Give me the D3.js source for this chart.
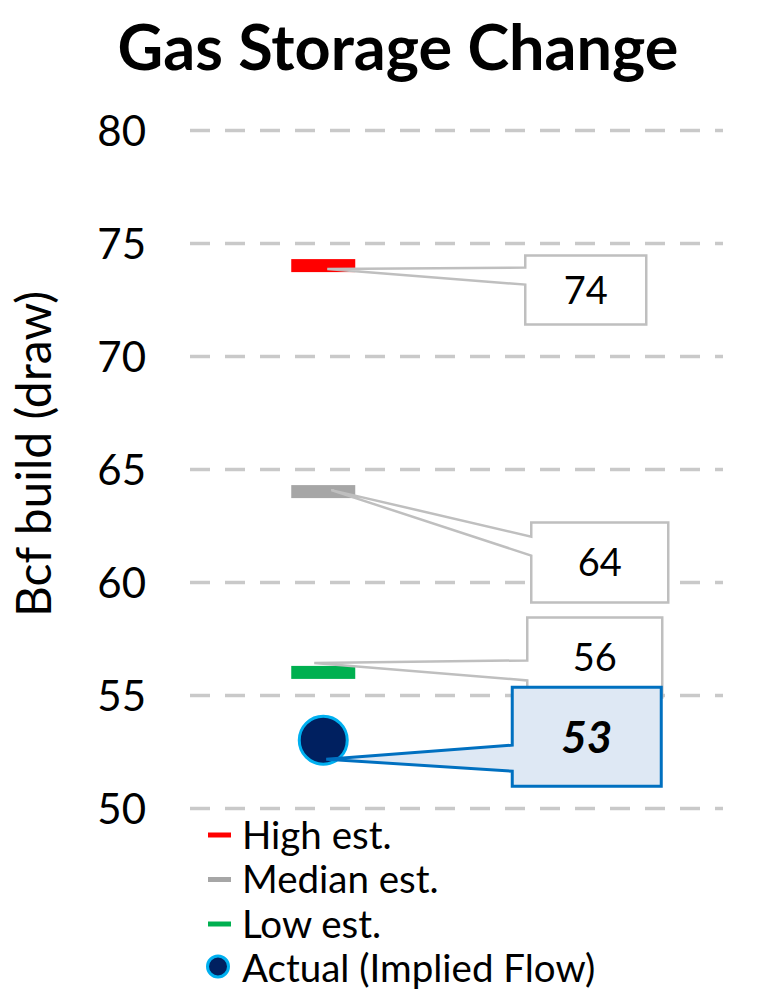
<!DOCTYPE html>
<html>
<head>
<meta charset="utf-8">
<script src="https://cdn.jsdelivr.net/npm/d3@7"></script>
<style>
  body { margin: 0; background: #fff; }
  text { font-family: Lato, "Open Sans", sans-serif; }
</style>
</head>
<body>
<svg id="chart" width="776" height="991"></svg>
<script>
// Data
var seriesNames = ["High est.", "Median est.", "Low est.", "Actual (Implied Flow)"];
var seriesValues = [74, 64, 56, 53];
var yTicks = [50, 55, 60, 65, 70, 75, 80];

// Styles
var colors = ["#ff0000", "#a6a6a6", "#00b050", "#002060"];

// Layout
var margin = {left: 190, right: 53, top: 130, bottom: 183};
var width = 776 - margin.left - margin.right;
var height = 991 - margin.top - margin.bottom;

var svg = d3.select("svg#chart");
var g = svg.append("g").attr("transform", "translate(" + margin.left + "," + margin.top + ")");

var x = d3.scaleLinear().domain([0, 4]).range([0, width]);
var y = d3.scaleLinear().domain([50, 80]).range([height, 0]);
var cx = x(1.0);

// title
svg.append("text").attr("x", 398).attr("y", 70).attr("text-anchor", "middle")
    .style("font-size", "63px").style("font-weight", "bold").text("Gas Storage Change");

// gridlines
var grid = g.append("g").call(d3.axisLeft(y).tickValues(yTicks).tickSize(-width).tickFormat(""));
grid.select(".domain").remove();
grid.selectAll("line").attr("stroke", "#c9c9c9").attr("stroke-width", 3.5).attr("stroke-dasharray", "20,15");

// y axis labels
var yAxis = g.append("g").call(d3.axisLeft(y).tickValues(yTicks).tickSize(0).tickPadding(44));
yAxis.select(".domain").remove();
yAxis.selectAll("text").style("font-size", "42px").attr("fill", "#000")
    .style("font-family", "Lato, sans-serif").attr("dy", "0.36em");

// axis title
svg.append("text").attr("transform", "translate(51,454) rotate(-90)")
    .attr("text-anchor", "middle").style("font-size", "48px").text("Bcf build (draw)");

// callouts (relative to marker position)
var callouts = [
    {tx: 4, ty: 3.5, dx: 202, top: -10, w: 121, h: 69, a1: 12, a2: 29},
    {tx: 8, ty: -1.5, dx: 208, top: 31, w: 137, h: 80, a1: 14, a2: 33},
    {tx: -9, ty: -9.5, dx: 204, top: -55, w: 135, h: 80, a1: 43, a2: 63},
    {tx: 3, ty: 19, dx: 189, top: -53, w: 149, h: 99, a1: 58, a2: 84}
];

function calloutPath(px, py, c) {
    var L = px + c.dx - c.tx, T = py + c.top - c.ty;
    var R = L + c.w, B = T + c.h;
    return "M" + L + "," + T + "L" + R + "," + T + "L" + R + "," + B + "L" + L + "," + B +
        "L" + L + "," + (T + c.a2) + "L" + px + "," + py + "L" + L + "," + (T + c.a1) + "Z";
}

// estimate bars
var ests = [0, 1, 2];
g.selectAll("rect.est").data(ests).enter().append("rect")
    .attr("x", cx - 32).attr("width", 64)
    .attr("y", function(i) { return y(seriesValues[i]) - 6.5; })
    .attr("height", 13)
    .attr("fill", function(i) { return colors[i]; });

// gray callouts
ests.forEach(function(i) {
    var c = callouts[i];
    var px = cx + c.tx, py = y(seriesValues[i]) + c.ty;
    g.append("path").attr("d", calloutPath(px, py, c))
        .attr("fill", "#fff").attr("stroke", "#bfbfbf").attr("stroke-width", 2.5)
        .attr("stroke-linejoin", "miter");
    g.append("text").attr("x", px + c.dx - c.tx + c.w / 2)
        .attr("y", py + c.top - c.ty + c.h / 2).attr("dy", "0.36em")
        .attr("text-anchor", "middle").style("font-size", "38px").text(seriesValues[i]);
});

// actual point
var ay = y(seriesValues[3]);
g.append("circle").attr("cx", cx).attr("cy", ay).attr("r", 24)
    .attr("fill", colors[3]).attr("stroke", "#00b0f0").attr("stroke-width", 3);

var c3 = callouts[3];
var px3 = cx + c3.tx, py3 = ay + c3.ty;
g.append("path").attr("d", calloutPath(px3, py3, c3))
    .attr("fill", "#dee8f4").attr("stroke", "#0070c0").attr("stroke-width", 3);
g.append("text").attr("x", px3 + c3.dx - c3.tx + c3.w / 2)
    .attr("y", py3 + c3.top - c3.ty + c3.h / 2).attr("dy", "0.36em")
    .attr("text-anchor", "middle").style("font-size", "44px")
    .style("font-weight", "bold").style("font-style", "italic").text(seriesValues[3]);

// legend
var legend = svg.append("g").attr("transform", "translate(208,835)");
var rows = legend.selectAll("g").data(seriesNames).enter().append("g")
    .attr("transform", function(d, i) { return "translate(0," + (i * 44.5) + ")"; });
rows.each(function(d, i) {
    var r = d3.select(this);
    if (i < 3) {
        r.append("line").attr("x1", 0).attr("x2", 23).attr("y1", 0).attr("y2", 0)
            .attr("stroke", colors[i]).attr("stroke-width", 5);
    } else {
        r.append("circle").attr("cx", 10).attr("cy", -2).attr("r", 10.5)
            .attr("fill", colors[3]).attr("stroke", "#00b0f0").attr("stroke-width", 3);
    }
});
rows.append("text").attr("x", 34).attr("dy", "0.36em").style("font-size", "38.5px").text(function(d) { return d; });
</script>
</body>
</html>
